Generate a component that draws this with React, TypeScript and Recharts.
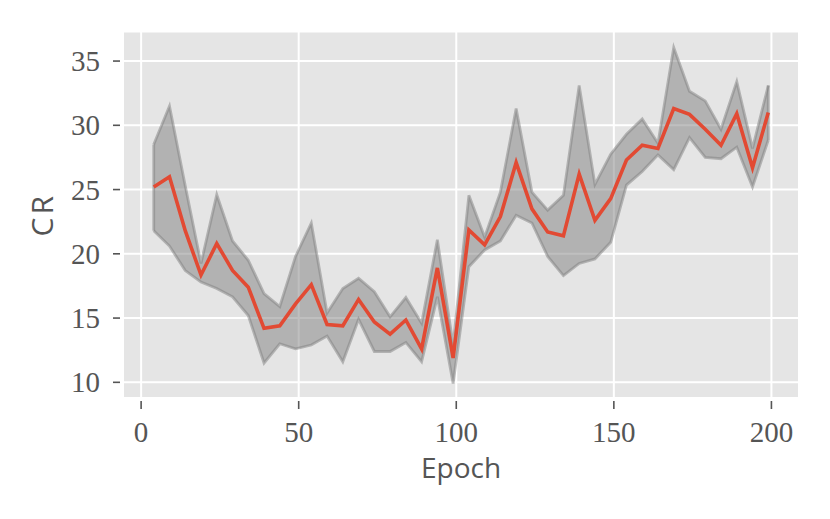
import React from 'react';
import {
  ComposedChart,
  Area,
  Line,
  XAxis,
  YAxis,
  CartesianGrid,
  ReferenceLine,
} from 'recharts';

const epochs = [4, 9, 14, 19, 24, 29, 34, 39, 44, 49, 54, 59, 64, 69, 74, 79, 84, 89, 94, 99, 104, 109, 114, 119, 124, 129, 134, 139, 144, 149, 154, 159, 164, 169, 174, 179, 184, 189, 194, 199];
const upperCR = [28.5, 31.5, 25.3, 19.25, 24.6, 21.0, 19.5, 16.9, 15.9, 19.8, 22.4, 15.4, 17.3, 18.1, 17.05, 15.1, 16.6, 14.6, 21.1, 12.9, 24.55, 21.3, 24.8, 31.3, 24.8, 23.4, 24.55, 33.1, 25.4, 27.75, 29.3, 30.5, 28.6, 36.05, 32.65, 31.9, 29.7, 33.4, 28.2, 33.1];
const meanCR = [25.2, 26.0, 21.8, 18.35, 20.8, 18.7, 17.4, 14.2, 14.4, 16.1, 17.6, 14.5, 14.4, 16.45, 14.7, 13.75, 14.85, 12.6, 18.9, 11.9, 21.85, 20.7, 22.9, 27.1, 23.5, 21.7, 21.4, 26.2, 22.6, 24.3, 27.3, 28.45, 28.2, 31.3, 30.85, 29.7, 28.45, 30.9, 26.7, 31.0];
const lowerCR = [21.8, 20.6, 18.7, 17.8, 17.3, 16.65, 15.2, 11.5, 13.0, 12.6, 12.9, 13.6, 11.6, 14.9, 12.4, 12.4, 13.1, 11.6, 16.65, 9.9, 19.0, 20.3, 21.0, 23.0, 22.4, 19.8, 18.3, 19.25, 19.6, 20.9, 25.35, 26.4, 27.7, 26.55, 29.05, 27.5, 27.4, 28.3, 25.2, 28.85];
const xTicks = [0, 50, 100, 150, 200];
const yTicks = [10, 15, 20, 25, 30, 35];

const data = epochs.map((e, i) => ({
  epoch: e,
  mean: meanCR[i],
  lower: lowerCR[i],
  upper: upperCR[i],
  band: [lowerCR[i], upperCR[i]],
}));

const TICK_FONT = '"Liberation Serif", "DejaVu Serif", serif';
const LABEL_FONT = '"Open Sans", "DejaVu Sans", sans-serif';
const TEXT_COLOR = '#555555';

const XTick = (props: any) => {
  const { x, y, payload } = props;
  return (
    <g>
      <line x1={x} x2={x} y1={y + 3} y2={y + 11} stroke={TEXT_COLOR} strokeWidth={1.6} />
      <text x={x} y={y + 44} textAnchor="middle" fontFamily={TICK_FONT} fontSize={29} fill={TEXT_COLOR}>
        {payload.value}
      </text>
    </g>
  );
};

const YTick = (props: any) => {
  const { x, y, payload } = props;
  return (
    <g>
      <line x1={x - 10} x2={x - 3} y1={y} y2={y} stroke={TEXT_COLOR} strokeWidth={1.6} />
      <text x={x - 23} y={y + 10} textAnchor="end" fontFamily={TICK_FONT} fontSize={29} fill={TEXT_COLOR}>
        {payload.value}
      </text>
    </g>
  );
};

const XLabel = (props: any) => {
  const vb = props.viewBox;
  return (
    <text x={vb.x + vb.width / 2} y={vb.y + 80} textAnchor="middle" fontFamily={LABEL_FONT} fontSize={28} fill={TEXT_COLOR}>
      Epoch
    </text>
  );
};

const YLabel = (props: any) => {
  const vb = props.viewBox;
  const cx = 53;
  const cy = vb.y + vb.height / 2;
  return (
    <text x={cx} y={cy} transform={`rotate(-90 ${cx} ${cy})`} textAnchor="middle" fontFamily={LABEL_FONT} fontSize={30} letterSpacing={3} fill={TEXT_COLOR}>
      CR
    </text>
  );
};

export default function App() {
  const first = 0;
  const last = epochs.length - 1;
  return (
    <div style={{ position: 'absolute', left: 0, top: 0, width: 830, height: 519, background: '#ffffff' }}>
      <ComposedChart
        width={830}
        height={519}
        data={data}
        margin={{ top: 31.5, right: 31, bottom: 0, left: 0 }}
      >
        <CartesianGrid stroke="#ffffff" strokeWidth={2} fill="#E5E5E5" fillOpacity={1} />
        <XAxis
          dataKey="epoch"
          type="number"
          domain={[-5.75, 208.75]}
          ticks={xTicks}
          height={121}
          axisLine={false}
          tickLine={false}
          tickSize={0}
          tickMargin={0}
          tick={<XTick />}
          label={<XLabel />}
          interval={0}
          allowDataOverflow
        />
        <YAxis
          type="number"
          domain={[8.78, 37.3]}
          ticks={yTicks}
          width={123}
          axisLine={false}
          tickLine={false}
          tickSize={0}
          tickMargin={0}
          tick={<YTick />}
          label={<YLabel />}
          interval={0}
          allowDataOverflow
        />
        <Area
          dataKey="band"
          type="linear"
          stroke="none"
          fill="#808080"
          fillOpacity={0.5}
          isAnimationActive={false}
          activeDot={false}
          dot={false}
        />
        <Line dataKey="upper" type="linear" stroke="#808080" strokeOpacity={0.5} strokeWidth={2.8} dot={false} activeDot={false} isAnimationActive={false} />
        <Line dataKey="lower" type="linear" stroke="#808080" strokeOpacity={0.5} strokeWidth={2.8} dot={false} activeDot={false} isAnimationActive={false} />
        <ReferenceLine
          segment={[{ x: epochs[first], y: lowerCR[first] }, { x: epochs[first], y: upperCR[first] }]}
          stroke="#808080"
          strokeOpacity={0.5}
          strokeWidth={2.8}
        />
        <ReferenceLine
          segment={[{ x: epochs[last], y: lowerCR[last] }, { x: epochs[last], y: upperCR[last] }]}
          stroke="#808080"
          strokeOpacity={0.5}
          strokeWidth={2.8}
        />
        <Line dataKey="mean" type="linear" stroke="#E24A33" strokeWidth={3.6} dot={false} activeDot={false} isAnimationActive={false} />
      </ComposedChart>
    </div>
  );
}
